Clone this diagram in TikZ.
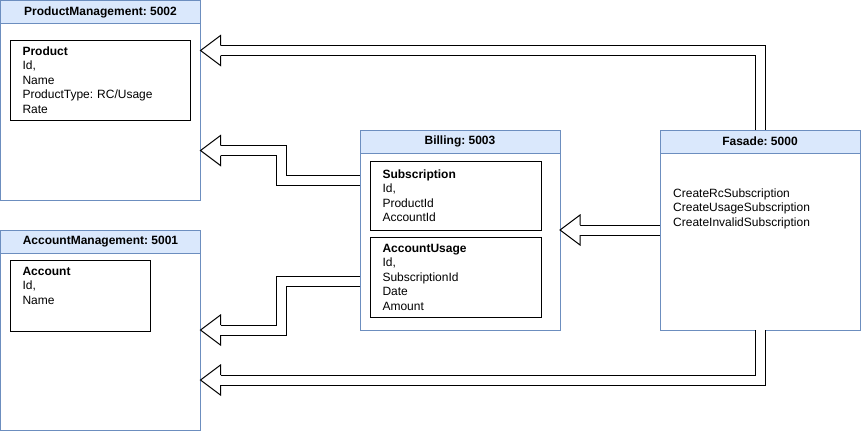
\documentclass[tikz,border=0pt]{standalone}
\usepackage{fontspec}
\setmainfont{Liberation Sans}
\definecolor{laneblue}{HTML}{DAE8FC}
\definecolor{laneline}{HTML}{6C8EBF}
\tikzset{
  lane/.style={draw=laneline, line width=1pt, minimum width=200pt, minimum height=200pt,
    anchor=north west, outer sep=0pt, inner sep=0pt},
  lanehead/.style={lane, fill=laneblue, minimum height=23pt,
    font=\fontsize{12}{14.5}\selectfont\frenchspacing\bfseries},
  entity/.style={draw, line width=1pt, anchor=north west, outer sep=0pt,
    inner xsep=12.5pt, inner ysep=0pt, align=left},
  fatarrow/.style={draw, line width=1pt, double=white, double distance=9pt}
}
% hollow arrow head, tip at #1, pointing left
\newcommand{\fathead}[1]{%
  \draw[fill=white, line width=1pt] ([shift={(20,-5)}]#1) -- ++(0,-10) -- (#1) -- ++(20,15) -- ++(0,-10);}

\begin{document}
\begin{tikzpicture}[x=1pt, y=-1pt, font=\fontsize{12}{14.5}\selectfont\frenchspacing]
        \useasboundingbox (0,0) rectangle (861,431);
        % Services
        \node[lane] (pm) at (0.5,0.5) {};
        \node[lanehead] (pmhead) at (0.5,0.5) {ProductManagement: 5002};
        \node[entity, text width=155pt, minimum height=80pt] (product) at (10,40)
          {\textbf{Product}\\Id,\\Name\\ProductType: RC/Usage\\Rate};
        \node[lane] (am) at (0.5,230) {};
        \node[lanehead] (amhead) at (0.5,230) {AccountManagement: 5001};
        \node[entity, text width=115pt, minimum height=71pt] (account) at (10,260)
          {\textbf{Account}\\Id,\\Name\\[5pt]\mbox{}};
        \node[lane] (bill) at (360,130) {};
        \node[lanehead] (billhead) at (360,130) {Billing: 5003};
        \node[entity, text width=146pt, minimum height=69pt] (subscr) at (370,161)
          {\textbf{Subscription}\\Id,\\ProductId\\AccountId};
        \node[entity, text width=146pt, minimum height=80pt] (usage) at (370,237)
          {\textbf{AccountUsage}\\Id,\\SubscriptionId\\Date\\Amount};
        \node[lane] (fas) at (660,130) {};
        \node[lanehead] (fashead) at (660,130) {Fasade: 5000};
        \node[anchor=north west, align=left, inner sep=0pt] (fasops) at (673,188.5)
          {CreateRcSubscription\\CreateUsageSubscription\\CreateInvalidSubscription};
        % Arrow tips
        \coordinate (ptop) at ([yshift=-50pt]pm.north east);
        \coordinate (pmid) at ([yshift=-150pt]pm.north east);
        \coordinate (amid) at ([yshift=100pt]am.south east);
        \coordinate (abot) at ([yshift=50pt]am.south east);
        % Arrows
        \draw[fatarrow] (fas.north) |- ([xshift=20pt]ptop);
        \draw[fatarrow] ([yshift=50pt]bill.west) -- ++(-79,0) |- ([xshift=20pt]pmid);
        \draw[fatarrow] ([yshift=-51pt]bill.west) -- ++(-79,0) |- ([xshift=20pt]amid);
        \draw[fatarrow] (fas.south) |- ([xshift=20pt]abot);
        \draw[fatarrow] (fas.west) -- ([xshift=20pt]bill.east);
        \fathead{ptop}
        \fathead{pmid}
        \fathead{amid}
        \fathead{abot}
        \fathead{bill.east}

\end{tikzpicture}
\end{document}
